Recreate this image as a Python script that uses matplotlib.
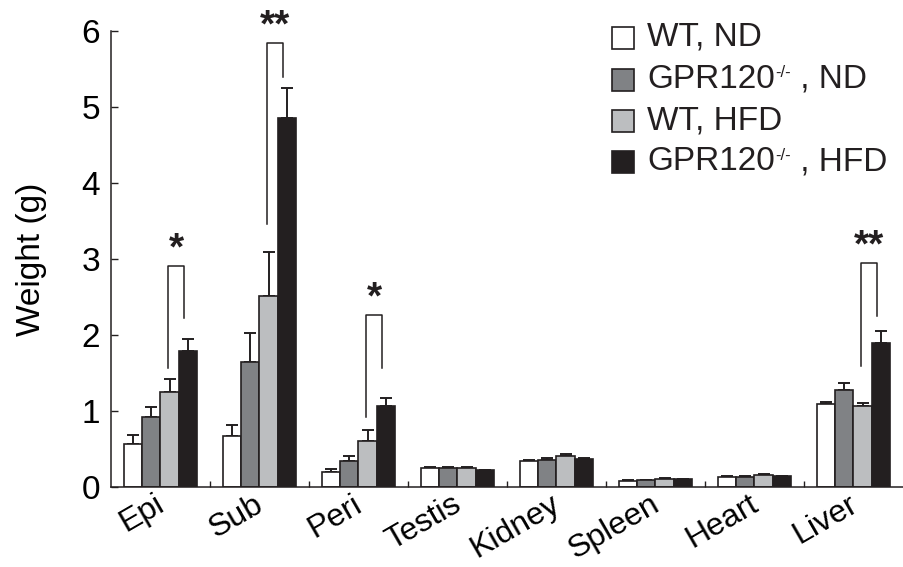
import matplotlib
matplotlib.use("Agg")
import matplotlib.pyplot as plt
import matplotlib.transforms as mtransforms
import numpy as np
from matplotlib.patches import Rectangle

plt.rcParams['font.family'] = ['Liberation Sans', 'DejaVu Sans']

categories = ["Epi", "Sub", "Peri", "Testis", "Kidney", "Spleen", "Heart", "Liver"]
series_names = [("WT, ND", "", ""), ("GPR120", "-/-", " , ND"),
                ("WT, HFD", "", ""), ("GPR120", "-/-", " , HFD")]
wt_nd = [0.57, 0.67, 0.20, 0.255, 0.34, 0.079, 0.136, 1.09]
wt_nd_err = [0.11, 0.14, 0.04, 0.01, 0.015, 0.009, 0.009, 0.03]
ko_nd = [0.92, 1.64, 0.34, 0.255, 0.355, 0.092, 0.13, 1.27]
ko_nd_err = [0.13, 0.39, 0.07, 0.01, 0.031, 0.004, 0.01, 0.10]
wt_hfd = [1.25, 2.51, 0.61, 0.25, 0.41, 0.11, 0.16, 1.066]
wt_hfd_err = [0.17, 0.58, 0.14, 0.012, 0.02, 0.01, 0.015, 0.044]
ko_hfd = [1.79, 4.85, 1.07, 0.22, 0.37, 0.105, 0.145, 1.89]
ko_hfd_err = [0.15, 0.40, 0.10, 0.005, 0.01, 0.005, 0.005, 0.16]
yticks = [0, 1, 2, 3, 4, 5, 6]

# significance: (group index, left bottom, right bottom, top, label)
sig = [(0, 1.56, 2.22, 2.91, "*"),
       (1, 3.46, 5.39, 5.84, "**"),
       (2, 0.92, 1.57, 2.26, "*"),
       (7, 1.59, 2.25, 2.94, "**")]

colors = ["#ffffff", "#808285", "#bcbec0", "#231f20"]
edge = "#231f20"
values = [wt_nd, ko_nd, wt_hfd, ko_hfd]
errs = [wt_nd_err, ko_nd_err, wt_hfd_err, ko_hfd_err]

fig = plt.figure(figsize=(9.04, 5.67), dpi=100)
ax = fig.add_axes([111/904, 80/567, 792/904, (487-30.7)/567])

x = np.arange(len(categories))
w = 0.185
for i, (v, e, c) in enumerate(zip(values, errs, colors)):
    pos = x + (i - 1.5) * w
    ax.bar(pos, v, width=w, color=c, edgecolor=edge, linewidth=1.2, zorder=2)
    ax.errorbar(pos, v, yerr=[np.zeros(len(v)), e], fmt='none', ecolor=edge,
                elinewidth=1.4, capsize=4, capthick=1.4, zorder=1)

for g, lb, rb, top, lab in sig:
    xl = g + 0.079
    xr = g + 0.237
    ax.plot([xl, xl, xr, xr], [lb, top, top, rb], color=edge, lw=1.1,
            clip_on=False, zorder=3)
    ax.text((xl + xr) / 2, top - 0.02, lab, ha='center', va='bottom',
            fontsize=28, fontweight='bold', color=edge, clip_on=False)

ax.set_xlim(-0.5, 7.5)
ax.set_ylim(0, 6)
ax.set_yticks(yticks)
ax.set_yticklabels([str(t) for t in yticks], fontsize=24)
ax.set_xticks(x)
ax.set_xticklabels(categories, rotation=30, ha='right', rotation_mode='anchor',
                   fontsize=23)
ax.tick_params(axis='x', length=0, pad=3)
offset = mtransforms.ScaledTranslation(-6/100, 2/100, fig.dpi_scale_trans)
for lbl in ax.get_xticklabels():
    lbl.set_transform(lbl.get_transform() + offset)
ax.set_xticks(np.arange(0.5, 7.5, 1.0), minor=True)
ax.tick_params(axis='x', which='minor', direction='in', length=4, width=1, color=edge)
ax.tick_params(axis='y', direction='in', length=5, width=1, color=edge, pad=8)
for s in ['top', 'right']:
    ax.spines[s].set_visible(False)
for s in ['left', 'bottom']:
    ax.spines[s].set_color(edge)
    ax.spines[s].set_linewidth(1.1)
ax.set_ylabel("Weight (g)", fontsize=24)
ax.yaxis.set_label_coords(-0.081, 0.5)

# legend
renderer = fig.canvas.get_renderer()
row_y = [37.5, 79.5, 120.5, 162.0]
for (main, sup, rest), c, yy in zip(series_names, colors, row_y):
    fig.patches.append(Rectangle((612/904, (567 - yy - 11)/567), 22/904, 22/567,
                                 transform=fig.transFigure, facecolor=c,
                                 edgecolor=edge, linewidth=1.2))
    t = fig.text(647/904, (567 - yy)/567, main, fontsize=24, va='center', ha='left',
                 color=edge)
    if sup:
        bb = t.get_window_extent(renderer)
        t2 = fig.text(bb.x1/904 + 1/904, (567 - yy + 7)/567, sup, fontsize=12,
                      va='center', ha='left', color=edge)
        bb2 = t2.get_window_extent(renderer)
        fig.text(bb2.x1/904, (567 - yy)/567, rest, fontsize=24, va='center',
                 ha='left', color=edge)

fig.savefig("out.png", dpi=100)
